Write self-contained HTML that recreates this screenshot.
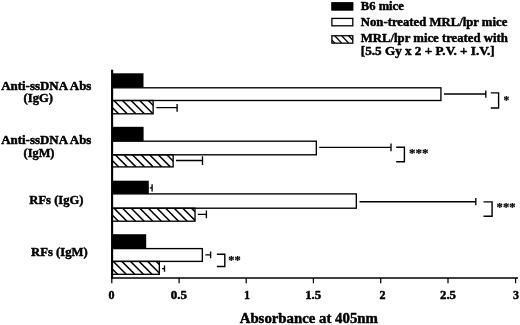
<!DOCTYPE html>
<html><head><meta charset="utf-8"><title>Figure</title>
<style>
html,body{margin:0;padding:0;background:#fff;}
svg{display:block;}
text{font-family:"Liberation Serif",serif;font-weight:bold;fill:#000;stroke:#000;stroke-width:0.45px;stroke-linejoin:round;}
text.s{stroke-width:0.22px;}
</style></head><body>
<svg width="520" height="325" viewBox="0 0 520 325">
<rect width="520" height="325" fill="#fff"/>
<rect x="112.0" y="73.30" width="31.50" height="14.50" fill="#000"/>
<rect x="112.0" y="87.80" width="328.93" height="12.70" fill="#fff" stroke="#000" stroke-width="1.35"/>
<clipPath id="c0"><rect x="112.0" y="100.50" width="41.13" height="13.30"/></clipPath>
<path clip-path="url(#c0)" d="M96.70 100.50l13.30 13.30M105.30 100.50l13.30 13.30M113.90 100.50l13.30 13.30M122.50 100.50l13.30 13.30M131.10 100.50l13.30 13.30M139.70 100.50l13.30 13.30M148.30 100.50l13.30 13.30" stroke="#000" stroke-width="1.5" fill="none"/>
<rect x="112.0" y="100.50" width="41.13" height="13.30" fill="none" stroke="#000" stroke-width="1.35"/>
<rect x="112.0" y="126.80" width="31.60" height="14.40" fill="#000"/>
<rect x="112.0" y="141.20" width="204.32" height="13.60" fill="#fff" stroke="#000" stroke-width="1.35"/>
<clipPath id="c1"><rect x="112.0" y="154.80" width="61.13" height="12.10"/></clipPath>
<path clip-path="url(#c1)" d="M98.00 154.80l12.10 12.10M106.60 154.80l12.10 12.10M115.20 154.80l12.10 12.10M123.80 154.80l12.10 12.10M132.40 154.80l12.10 12.10M141.00 154.80l12.10 12.10M149.60 154.80l12.10 12.10M158.20 154.80l12.10 12.10M166.80 154.80l12.10 12.10" stroke="#000" stroke-width="1.5" fill="none"/>
<rect x="112.0" y="154.80" width="61.13" height="12.10" fill="none" stroke="#000" stroke-width="1.35"/>
<rect x="112.0" y="180.70" width="36.80" height="13.20" fill="#000"/>
<rect x="112.0" y="193.90" width="244.32" height="14.30" fill="#fff" stroke="#000" stroke-width="1.35"/>
<clipPath id="c2"><rect x="112.0" y="208.20" width="83.02" height="13.00"/></clipPath>
<path clip-path="url(#c2)" d="M96.80 208.20l13.00 13.00M105.40 208.20l13.00 13.00M114.00 208.20l13.00 13.00M122.60 208.20l13.00 13.00M131.20 208.20l13.00 13.00M139.80 208.20l13.00 13.00M148.40 208.20l13.00 13.00M157.00 208.20l13.00 13.00M165.60 208.20l13.00 13.00M174.20 208.20l13.00 13.00M182.80 208.20l13.00 13.00M191.40 208.20l13.00 13.00" stroke="#000" stroke-width="1.5" fill="none"/>
<rect x="112.0" y="208.20" width="83.02" height="13.00" fill="none" stroke="#000" stroke-width="1.35"/>
<rect x="112.0" y="234.20" width="34.20" height="14.40" fill="#000"/>
<rect x="112.0" y="248.60" width="90.33" height="12.80" fill="#fff" stroke="#000" stroke-width="1.35"/>
<clipPath id="c3"><rect x="112.0" y="261.40" width="47.33" height="12.90"/></clipPath>
<path clip-path="url(#c3)" d="M96.10 261.40l12.90 12.90M104.70 261.40l12.90 12.90M113.30 261.40l12.90 12.90M121.90 261.40l12.90 12.90M130.50 261.40l12.90 12.90M139.10 261.40l12.90 12.90M147.70 261.40l12.90 12.90M156.30 261.40l12.90 12.90" stroke="#000" stroke-width="1.5" fill="none"/>
<rect x="112.0" y="261.40" width="47.33" height="12.90" fill="none" stroke="#000" stroke-width="1.35"/>
<path d="M444.0 94.0H485.8M485.8 90.6V97.8M156.4 107.6H177.1M177.1 103.9V111.8M319.25 147.3H391.0M391.0 143.5V151.2M176.0 160.5H202.5M202.5 156.2V165.0M149.8 187.8H152.1M152.1 184.2V191.6M359.5 201.7H475.8M475.8 198.1V205.2M197.8 214.4H206.4M206.4 210.6V218.2M205.4 254.9H210.6M210.6 251.5V258.2M162.0 268.6H164.5M164.5 265.4V271.8" stroke="#000" stroke-width="1.35" fill="none"/>
<path d="M490.8 92.9H498.6V108.0H490.8M396.2 147.3H404.4V161.7H396.2M483.5 201.9H492.1V216.2H483.5M216.9 254.2H224.8V266.5H216.9" stroke="#000" stroke-width="1.4" fill="none"/>
<path d="M112.1 69.7V278.5" stroke="#000" stroke-width="2.1" fill="none"/>
<path d="M111 277.9H518" stroke="#000" stroke-width="1.55" fill="none"/>
<path d="M111.80 278V283.2M179.10 278V283.2M246.20 278V283.2M313.40 278V283.2M380.70 278V283.2M448.00 278V283.2M515.60 278V283.2" stroke="#000" stroke-width="1.25" fill="none"/>
<rect x="331.2" y="2.1" width="22.2" height="8.6" fill="#000"/>
<rect x="331.9" y="18.4" width="20.9" height="7.4" fill="#fff" stroke="#000" stroke-width="1.3"/>
<clipPath id="cl"><rect x="331.9" y="35.75" width="20.9" height="7.4"/></clipPath>
<path clip-path="url(#cl)" d="M327.8 35.75l7 7.4M334.7 35.75l7 7.4M341.7 35.75l7 7.4M348.6 35.75l7 7.4" stroke="#000" stroke-width="1.35"/>
<rect x="331.9" y="35.75" width="20.9" height="7.4" fill="none" stroke="#000" stroke-width="1.3"/>
<text x="360.8" y="10.0" font-size="11.9" textLength="43" lengthAdjust="spacingAndGlyphs" text-anchor="start">B6 mice</text>
<text x="360.8" y="25.7" font-size="11.9" textLength="146.5" lengthAdjust="spacingAndGlyphs" text-anchor="start">Non-treated MRL/lpr mice</text>
<text x="360.8" y="42.1" font-size="11.9" textLength="147" lengthAdjust="spacingAndGlyphs" text-anchor="start">MRL/lpr mice treated with</text>
<text x="360.8" y="54.6" font-size="11.9" textLength="133.9" lengthAdjust="spacingAndGlyphs" text-anchor="start">[5.5 Gy x 2 + P.V. + I.V.]</text>
<text x="1.2" y="90.4" font-size="11.9" textLength="90.2" lengthAdjust="spacingAndGlyphs" text-anchor="start">Anti-ssDNA Abs</text>
<text x="23.6" y="102.0" font-size="11.9" textLength="29.4" lengthAdjust="spacingAndGlyphs" text-anchor="start">(IgG)</text>
<text x="1.2" y="144.4" font-size="11.9" textLength="90.2" lengthAdjust="spacingAndGlyphs" text-anchor="start">Anti-ssDNA Abs</text>
<text x="23.6" y="156.6" font-size="11.9" textLength="30.8" lengthAdjust="spacingAndGlyphs" text-anchor="start">(IgM)</text>
<text x="29.35" y="204.2" font-size="11.9" textLength="54.2" lengthAdjust="spacingAndGlyphs" text-anchor="start">RFs (IgG)</text>
<text x="31.1" y="255.9" font-size="11.9" textLength="56.6" lengthAdjust="spacingAndGlyphs" text-anchor="start">RFs (IgM)</text>
<text x="111.5" y="298.8" font-size="12" text-anchor="middle">0</text>
<text x="178.9" y="298.8" font-size="12" textLength="16.2" lengthAdjust="spacingAndGlyphs" text-anchor="middle">0.5</text>
<text x="246.9" y="298.8" font-size="12" text-anchor="middle">1</text>
<text x="313.2" y="298.8" font-size="12" textLength="16.0" lengthAdjust="spacingAndGlyphs" text-anchor="middle">1.5</text>
<text x="382.4" y="298.8" font-size="12" text-anchor="middle">2</text>
<text x="448.0" y="298.8" font-size="12" textLength="16.0" lengthAdjust="spacingAndGlyphs" text-anchor="middle">2.5</text>
<text x="516.0" y="298.8" font-size="12" text-anchor="middle">3</text>
<text x="239.7" y="323.2" font-size="13.8" textLength="138.2" lengthAdjust="spacingAndGlyphs" text-anchor="start">Absorbance at 405nm</text>
<text class="s" x="503.4" y="103.8" font-size="11.5" text-anchor="start">*</text>
<text class="s" x="409.0" y="156.9" font-size="13" text-anchor="start">***</text>
<text class="s" x="496.6" y="211.2" font-size="12.6" text-anchor="start">***</text>
<text class="s" x="228.3" y="263.7" font-size="12.4" text-anchor="start">**</text>
</svg>
</body></html>
